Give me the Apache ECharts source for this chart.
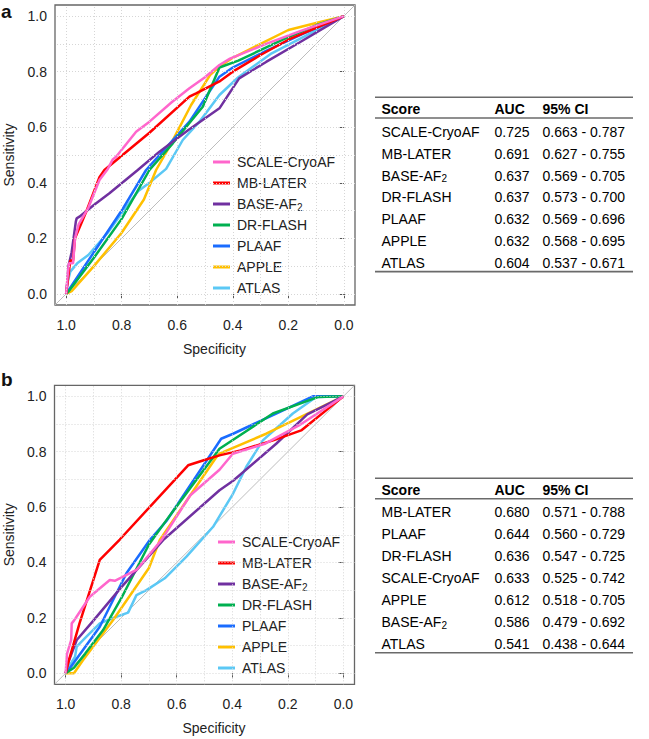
<!DOCTYPE html>
<html><head><meta charset="utf-8">
<script src="https://cdn.jsdelivr.net/npm/echarts@6/dist/echarts.min.js"></script>
<style>html,body{margin:0;padding:0;background:#fff}#c{width:649px;height:739px}</style>
</head><body><div id="c"></div>
<script>
// ---------- data ----------
const scoreNames = ['SCALE-CryoAF', 'MB-LATER', 'BASE-AF2', 'DR-FLASH', 'PLAAF', 'APPLE', 'ATLAS'];
const tickValues = [0, 0.2, 0.4, 0.6, 0.8, 1.0];
const gridValues = [0, 0.1, 0.2, 0.3, 0.4, 0.5, 0.6, 0.7, 0.8, 0.9, 1.0];

// Panel a ROC curves: [specificity, sensitivity]
const rocA_SCALE = [[1,0],[0.995,0.06],[0.99,0.11],[0.975,0.11],[0.968,0.2],[0.955,0.25],[0.92,0.31],[0.88,0.41],[0.85,0.45],[0.832,0.484],[0.82,0.494],[0.748,0.584],[0.70,0.62],[0.62,0.69],[0.556,0.74],[0.50,0.78],[0.448,0.824],[0.41,0.847],[0.28,0.90],[0.16,0.945],[0,1]];
const rocA_MB = [[1,0],[0.99,0.08],[0.985,0.12],[0.975,0.12],[0.968,0.2],[0.93,0.29],[0.88,0.42],[0.862,0.446],[0.70,0.58],[0.556,0.71],[0.532,0.722],[0.448,0.765],[0.40,0.80],[0.30,0.86],[0.20,0.915],[0,1]];
const rocA_BASE = [[1,0],[0.995,0.05],[0.992,0.098],[0.98,0.15],[0.965,0.26],[0.962,0.272],[0.952,0.278],[0.90,0.32],[0.844,0.362],[0.742,0.446],[0.664,0.512],[0.56,0.59],[0.448,0.668],[0.377,0.776],[0.28,0.835],[0.16,0.905],[0,1]];
const rocA_DR = [[1,0],[0.99,0.01],[0.90,0.13],[0.80,0.27],[0.70,0.446],[0.616,0.542],[0.508,0.674],[0.448,0.815],[0.38,0.84],[0.22,0.915],[0.10,0.967],[0,1]];
const rocA_PLAAF = [[1,0],[0.99,0.015],[0.90,0.15],[0.80,0.30],[0.712,0.446],[0.556,0.62],[0.448,0.782],[0.40,0.815],[0.28,0.875],[0.15,0.935],[0,1]];
const rocA_APPLE = [[1,0],[0.98,0.01],[0.90,0.10],[0.80,0.22],[0.72,0.34],[0.676,0.446],[0.628,0.53],[0.55,0.68],[0.48,0.79],[0.448,0.818],[0.40,0.85],[0.30,0.90],[0.20,0.95],[0.10,0.975],[0,1]];
const rocA_ATLAS = [[1,0],[0.995,0.04],[0.985,0.08],[0.96,0.11],[0.92,0.14],[0.85,0.22],[0.80,0.29],[0.74,0.37],[0.70,0.40],[0.64,0.45],[0.58,0.554],[0.52,0.62],[0.448,0.716],[0.38,0.78],[0.26,0.866],[0,1]];

// Panel b ROC curves
const rocB_SCALE = [[1,0],[0.995,0.07],[0.98,0.12],[0.978,0.18],[0.97,0.19],[0.96,0.205],[0.913,0.276],[0.841,0.337],[0.823,0.334],[0.745,0.373],[0.655,0.481],[0.551,0.643],[0.446,0.735],[0.398,0.793],[0.28,0.83],[0.16,0.895],[0,1]];
const rocB_MB = [[1,0],[0.99,0.04],[0.95,0.18],[0.877,0.409],[0.805,0.483],[0.559,0.751],[0.50,0.77],[0.446,0.787],[0.37,0.805],[0.25,0.842],[0.152,0.877],[0,1]];
const rocB_BASE = [[1,0],[0.99,0.04],[0.96,0.12],[0.90,0.19],[0.80,0.31],[0.649,0.481],[0.446,0.661],[0.397,0.695],[0.242,0.829],[0.13,0.935],[0,1]];
const rocB_DR = [[1,0],[0.97,0.02],[0.93,0.07],[0.865,0.156],[0.80,0.27],[0.70,0.465],[0.637,0.553],[0.446,0.811],[0.254,0.938],[0.09,0.998],[0,1]];
const rocB_PLAAF = [[1,0],[0.985,0.018],[0.877,0.168],[0.781,0.361],[0.697,0.481],[0.637,0.55],[0.44,0.847],[0.397,0.865],[0.242,0.938],[0.11,1.0],[0,1]];
const rocB_APPLE = [[1,0],[0.97,0],[0.937,0.048],[0.829,0.192],[0.70,0.38],[0.661,0.481],[0.553,0.64],[0.457,0.781],[0.446,0.793],[0.278,0.865],[0,1]];
const rocB_ATLAS = [[1,0],[0.99,0.02],[0.966,0.06],[0.96,0.096],[0.925,0.132],[0.877,0.18],[0.817,0.204],[0.775,0.219],[0.745,0.282],[0.709,0.30],[0.643,0.343],[0.565,0.421],[0.469,0.529],[0.397,0.649],[0.35,0.745],[0.29,0.841],[0.182,0.938],[0.098,0.998],[0,1]];

// Tables
const tableHeader = ['Score', 'AUC', '95% CI'];
const tableA_scores = ['SCALE-CryoAF', 'MB-LATER', 'BASE-AF2', 'DR-FLASH', 'PLAAF', 'APPLE', 'ATLAS'];
const tableA_auc = ['0.725', '0.691', '0.637', '0.637', '0.632', '0.632', '0.604'];
const tableA_ci = ['0.663 - 0.787', '0.627 - 0.755', '0.569 - 0.705', '0.573 - 0.700', '0.569 - 0.696', '0.568 - 0.695', '0.537 - 0.671'];
const tableB_scores = ['MB-LATER', 'PLAAF', 'DR-FLASH', 'SCALE-CryoAF', 'APPLE', 'BASE-AF2', 'ATLAS'];
const tableB_auc = ['0.680', '0.644', '0.636', '0.633', '0.612', '0.586', '0.541'];
const tableB_ci = ['0.571 - 0.788', '0.560 - 0.729', '0.547 - 0.725', '0.525 - 0.742', '0.518 - 0.705', '0.479 - 0.692', '0.438 - 0.644'];

// ---------- styling ----------
const FONT = '"Liberation Sans", Arial, Helvetica, sans-serif';
const colors = {
  'SCALE-CryoAF': '#ff66cc', 'MB-LATER': '#ff0000', 'BASE-AF2': '#7030a0',
  'DR-FLASH': '#00b050', 'PLAAF': '#1a6cff', 'APPLE': '#ffc000', 'ATLAS': '#5bc8f5'
};
const richStyles = {
  n: { fontSize: 14, lineHeight: 16, fontFamily: FONT, color: '#222' },
  s: { fontSize: 10, lineHeight: 6, verticalAlign: 'bottom', fontFamily: FONT, color: '#222' },
  hb: { fontSize: 14, lineHeight: 16, fontFamily: FONT, color: '#222', fontWeight: 'bold' }
};
function labelText(name) {
  if (name === 'BASE-AF2') return '{n|BASE-AF}{s|2}';
  return '{n|' + name + '}';
}

const panelsCurves = [
  [rocA_SCALE, rocA_MB, rocA_BASE, rocA_DR, rocA_PLAAF, rocA_APPLE, rocA_ATLAS],
  [rocB_SCALE, rocB_MB, rocB_BASE, rocB_DR, rocB_PLAAF, rocB_APPLE, rocB_ATLAS]
];

const grids = [
  { left: 55, top: 5, width: 300, height: 300 },
  { left: 54.5, top: 385.3, width: 300, height: 299 }
];

function xAxisFor(i) {
  return {
    gridIndex: i, type: 'value', inverse: true, min: -0.04, max: 1.04,
    axisLine: { show: false }, splitLine: { show: false },
    axisTick: { show: true, customValues: tickValues, length: 5, lineStyle: { color: '#555', width: 1 } },
    axisLabel: { customValues: tickValues, formatter: v => v.toFixed(1), fontSize: 14, color: '#222', margin: 13, fontFamily: FONT },
    name: 'Specificity', nameLocation: 'middle', nameGap: 37,
    nameTextStyle: { fontSize: 14, color: '#222', fontFamily: FONT, padding: [0, 0, 0, 19] }
  };
}
function yAxisFor(i) {
  return {
    gridIndex: i, type: 'value', min: -0.04, max: 1.04,
    axisLine: { show: false }, splitLine: { show: false },
    axisTick: { show: true, customValues: tickValues, length: 5, lineStyle: { color: '#555', width: 1 } },
    axisLabel: { customValues: tickValues, formatter: v => v.toFixed(1), fontSize: 14, color: '#222', margin: 8, fontFamily: FONT },
    name: 'Sensitivity', nameLocation: 'middle', nameGap: 39,
    nameTextStyle: { fontSize: 14, color: '#222', fontFamily: FONT }
  };
}

const series = [];
[0, 1].forEach(p => {
  series.push({
    type: 'line', xAxisIndex: p, yAxisIndex: p, silent: true, showSymbol: false, z: 1,
    data: [[1.04, -0.04], [-0.04, 1.04]],
    lineStyle: { color: '#bdbdbd', width: 1 },
    markLine: {
      silent: true, symbol: ['none', 'none'], label: { show: false }, animation: false,
      lineStyle: { color: '#d6d6d6', width: 1, type: [1, 2] },
      emphasis: { disabled: true },
      data: gridValues.map(v => ({ xAxis: v })).concat(gridValues.map(v => ({ yAxis: v })))
    }
  });
  for (let k = scoreNames.length - 1; k >= 0; k--) {
    const nm = scoreNames[k];
    series.push({
      name: nm, type: 'line', xAxisIndex: p, yAxisIndex: p, showSymbol: false, symbol: 'none',
      data: panelsCurves[p][k], z: 3, clip: true,
      lineStyle: { color: colors[nm], width: 2.5 }, itemStyle: { color: colors[nm] }
    });
  }
});

function legendFor(left, top) {
  return {
    data: scoreNames, orient: 'vertical', left: left, top: top, padding: 0,
    itemWidth: 17, itemHeight: 3, itemGap: 5,
    icon: 'rect', selectedMode: false, formatter: labelText,
    textStyle: { fontSize: 14, color: '#222', lineHeight: 16, fontFamily: FONT, padding: [0, 0, 0, 2], rich: richStyles }
  };
}

// ---------- tables ----------
function tableGraphics(scores, auc, ci, topLine, headerY, rowY0, pitch) {
  const g = [];
  const x0 = 375, x1 = 633, cx = [381.5, 494.5, 542.5];
  const headLine = headerY + 8.7;
  const bottomLine = rowY0 + pitch * (scores.length - 1) + 8.5;
  [topLine, headLine, bottomLine].forEach(y => g.push({
    type: 'line', shape: { x1: x0, y1: y, x2: x1, y2: y }, style: { stroke: '#6a6a6a', lineWidth: 1.6 }, silent: true
  }));
  tableHeader.forEach((h, j) => g.push({
    type: 'text', x: cx[j], y: headerY, silent: true,
    style: { text: '{hb|' + h + '}', rich: richStyles, align: 'left', verticalAlign: 'middle' }
  }));
  scores.forEach((s, i) => {
    const y = rowY0 + pitch * i;
    [labelText(s), '{n|' + auc[i] + '}', '{n|' + ci[i] + '}'].forEach((t, j) => g.push({
      type: 'text', x: cx[j], y: y, silent: true,
      style: { text: t, rich: richStyles, align: 'left', verticalAlign: 'middle' }
    }));
  });
  return g;
}

const graphics = []
  .concat(tableGraphics(tableA_scores, tableA_auc, tableA_ci, 97.3, 109.3, 131.7, 21.9))
  .concat(tableGraphics(tableB_scores, tableB_auc, tableB_ci, 478.3, 490, 512.3, 22))
  .concat([
    { type: 'text', x: 1, y: 11, silent: true, style: { text: 'a', font: 'bold 19px ' + FONT, fill: '#111', align: 'left', verticalAlign: 'middle' } },
    { type: 'text', x: 1, y: 379.5, silent: true, style: { text: 'b', font: 'bold 19px ' + FONT, fill: '#111', align: 'left', verticalAlign: 'middle' } }
  ]);

const chart = echarts.init(document.getElementById('c'), null, { renderer: 'svg' });
chart.setOption({
  animation: false,
  backgroundColor: '#fff',
  textStyle: { fontFamily: FONT },
  grid: grids.map(g => Object.assign({ show: true, borderColor: '#666', borderWidth: 1.3, backgroundColor: 'transparent', containLabel: false }, g)),
  xAxis: [xAxisFor(0), xAxisFor(1)],
  yAxis: [yAxisFor(0), yAxisFor(1)],
  legend: [legendFor(213, 154), legendFor(218, 534)],
  series: series,
  graphic: graphics
});
</script></body></html>
